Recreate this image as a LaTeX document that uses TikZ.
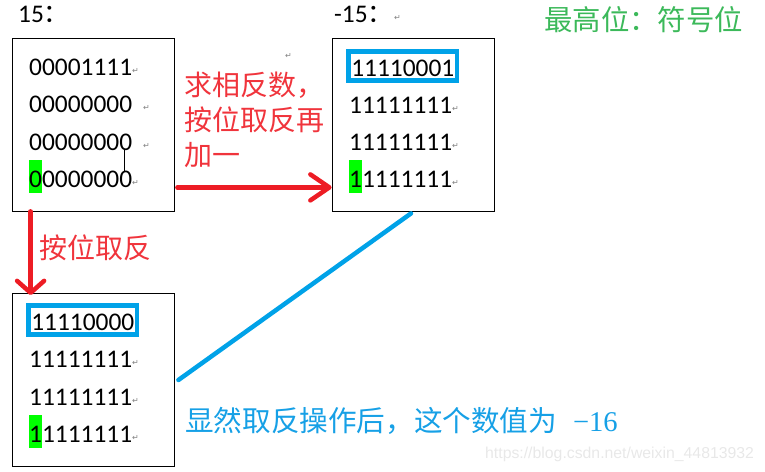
\documentclass[tikz,border=0pt]{standalone}
\usepackage{fontspec}
\setmainfont{Carlito}
\newfontfamily\cjk{Noto Sans CJK SC}
\newfontfamily\symfont{DejaVu Sans}
\newfontfamily\numfont{Liberation Serif}
\newfontfamily\wmfont{Liberation Sans}
\usetikzlibrary{arrows.meta,positioning}
\definecolor{arrowred}{RGB}{237,28,36}
\definecolor{textred}{RGB}{240,52,60}
\definecolor{lineblue}{RGB}{0,162,232}
\definecolor{textblue}{RGB}{22,160,230}
\definecolor{signgreen}{RGB}{60,185,90}
\definecolor{markgreen}{RGB}{0,255,0}
\newcommand\retmark{\raisebox{2pt}{\symfont\fontsize{8}{8}\selectfont\color{gray}↵}}
\newcommand\signbit[1]{{\fboxsep=0pt\colorbox{markgreen}{\rule[-6pt]{0pt}{33pt}#1}}}

\begin{document}
\begin{tikzpicture}[x=1pt,y=-1pt,
    wordbox/.style={draw, line width=0.8pt, minimum width=162pt, minimum height=173pt, inner sep=0},
    bitrow/.style={anchor=base west, inner xsep=3pt, inner ysep=4.5pt, text height=20pt, text depth=0pt, font=\fontsize{25.4}{30}\selectfont},
    signrow/.style={bitrow, draw=lineblue, line width=4.5pt},
    title/.style={anchor=base west, inner sep=0, font=\fontsize{25.4}{30}\selectfont},
    redlabel/.style={text=textred, inner sep=0, align=left, font=\cjk\fontsize{28}{35}\selectfont},
    redarrow/.style={draw=arrowred, line width=4.5pt, line cap=round}]
  \useasboundingbox (0,0) rectangle (765,471);

  % the three words
  \node[wordbox] (pos) at (93,124.5) {};
  \node[wordbox] (neg) at (413,124.5) {};
  \node[wordbox] (inv) at (93,380) {};

  \node[title] (posname) at (18,23) {15{\cjk ：}};
  \node[title] (negname) at (334,23) {-15{\cjk ：}};
  \node[anchor=west, inner sep=0] (negret) at (394,19) {\retmark};
  \node[anchor=west, inner sep=0] (loneret) at (285,57) {\retmark};
  \node[anchor=base west, inner sep=0, text=signgreen, font=\cjk\fontsize{28.4}{30}\selectfont] (signnote) at (544,30) {最高位：符号位};

  \node[bitrow] (pos1) at (26,75) {00001111\retmark};
  \node[bitrow] (pos2) at (26,112) {00000000\hspace{11pt}\retmark};
  \node[bitrow] (pos3) at (26,150) {00000000\hspace{11pt}\retmark};
  \node[bitrow] (pos4) at (26,187) {\signbit{0}0000000\retmark};

  \node[signrow] (neg1) at (346,76) {11110001};
  \node[bitrow] (neg2) at (346,113) {11111111\retmark};
  \node[bitrow] (neg3) at (346,150) {11111111\retmark};
  \node[bitrow] (neg4) at (346,187) {\signbit{1}1111111\retmark};

  \node[signrow] (inv1) at (26,330) {11110000};
  \node[bitrow] (inv2) at (26,367) {11111111\retmark};
  \node[bitrow] (inv3) at (26,405) {11111111\retmark};
  \node[bitrow] (inv4) at (26,442) {\signbit{1}1111111\retmark};

  \draw[line width=1pt] ([xshift=98pt]pos3.base west) -- ([xshift=98pt,yshift=15pt]pos4.base west);

  % operations
  \node[redlabel, anchor=north west] (negate) at (184,72) {求相反数，\\按位取反再\\加一};
  \node[redlabel, anchor=base west] (invert) at (39,258) {按位取反};
  \draw[redarrow, -{Straight Barb[length=19pt,width=26pt,round]}] ([xshift=3pt,yshift=24pt]pos.south east) -- ([yshift=24pt]neg.south west);
  \draw[redarrow, -{Straight Barb[length=12pt,width=27pt,round]}] ([xshift=19pt]pos.south west) -- ([xshift=19pt,yshift=-2pt]inv.north west);

  \draw[draw=lineblue, line width=4.5pt, line cap=round] ([xshift=4pt]inv.east) -- ([xshift=-2pt,yshift=-2pt]neg.south);
  \node[anchor=base west, inner sep=0, text=textblue, font=\cjk\fontsize{28.6}{30}\selectfont] (result) at (185,431) {显然取反操作后，这个数值为\hspace{16pt}{\numfont −16}};

  \node[anchor=base west, inner sep=0, text=gray!18, font=\wmfont\fontsize{15.8}{16}\selectfont] (watermark) at (485,458) {https://blog.csdn.net/weixin\_44813932};
\end{tikzpicture}
\end{document}
